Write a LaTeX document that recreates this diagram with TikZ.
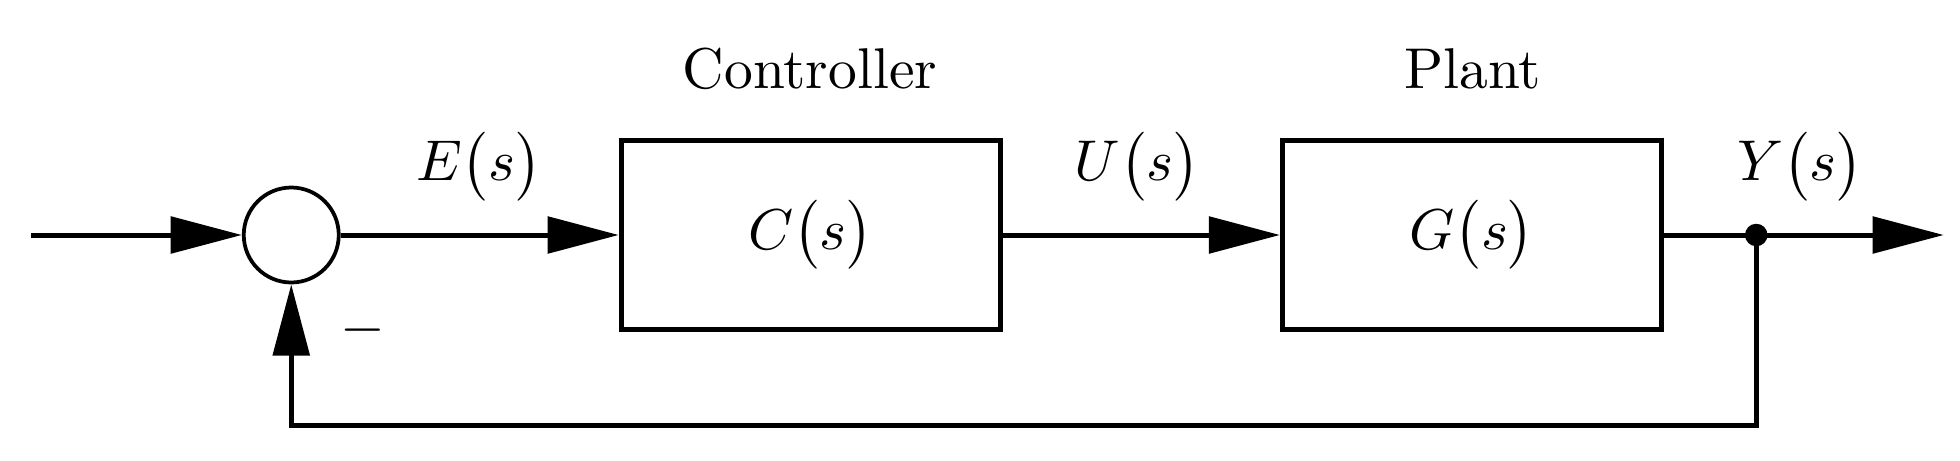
\documentclass[tikz,border=0pt]{standalone}
\usetikzlibrary{arrows.meta}
\newcommand{\bigtxt}[1]{\scalebox{4.6}{#1}}
\begin{document}
\begin{tikzpicture}[x=1pt,y=1pt,line width=4pt,
  blk/.style={draw,minimum width=303pt,minimum height=151pt,inner sep=0pt},
  arr/.style={-{Triangle[length=57pt,width=29pt]}},
  lbl/.style={inner sep=0pt}]
\useasboundingbox (0,0) rectangle (1568,368);
\node[draw,circle,minimum size=76pt,inner sep=0pt,line width=3pt] (sum) at (233,180) {};
\node[blk] (C) at (648.5,180) {};
\node[blk] (G) at (1177.5,180) {};
\node[lbl] at (C.center) {\bigtxt{$C\bigl(s\bigr)$}};
\node[lbl] at (G.center) {\bigtxt{$G\bigl(s\bigr)$}};
\node[lbl] (ctl) at (648,313) {\bigtxt{Controller}};
\node[lbl] (plt) at (1178,313) {\bigtxt{Plant}};
\node[lbl] (e) at (383,235) {\bigtxt{$E\bigl(s\bigr)$}};
\node[lbl] (u) at (910,235) {\bigtxt{$U\bigl(s\bigr)$}};
\node[lbl] (y) at (1440,235) {\bigtxt{$Y\bigl(s\bigr)$}};
\node[lbl] (m) at (290,104) {\bigtxt{$-$}};
\coordinate (in) at (25,180);
\coordinate (out) at (1555,180);
\fill (1405,180) circle (9pt) coordinate (dot);
\coordinate (bl) at (1405,28);
\coordinate (br) at (233,28);
\draw[arr] (in) -- (sum.west);
\draw[arr] (sum.east) -- (C.west);
\draw[arr] (C.east) -- (G.west);
\draw[arr] (G.east) -- (out);
\draw[arr,line cap=butt] (dot) -- (bl) -- (br) -- (sum.south);
\end{tikzpicture}
\end{document}
